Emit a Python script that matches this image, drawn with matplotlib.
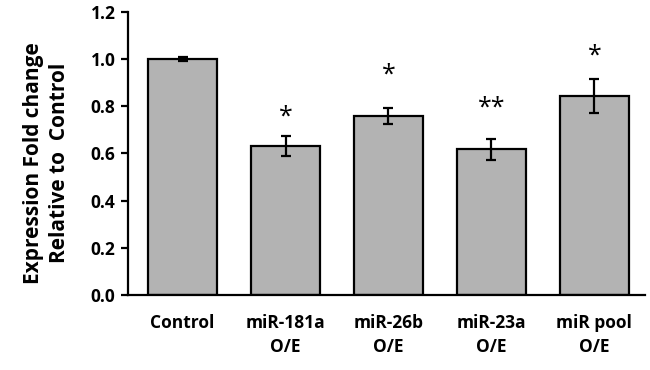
import matplotlib
matplotlib.use("Agg")
import matplotlib.pyplot as plt

categories = ["Control", "miR-181a\nO/E", "miR-26b\nO/E", "miR-23a\nO/E", "miR pool\nO/E"]
values = [1.0, 0.632, 0.759, 0.618, 0.842]
errors = [0.01, 0.042, 0.033, 0.045, 0.072]
stars = ["", "*", "*", "**", "*"]
star_y = [0, 0.70, 0.88, 0.74, 0.96]

plt.rcParams["font.family"] = ["Open Sans", "DejaVu Sans"]

fig = plt.figure(figsize=(6.5, 3.7), dpi=100)
ax = fig.add_axes([0.197, 0.203, 0.795, 0.765])

x = list(range(len(categories)))
ax.bar(x, values, width=0.67, color="#b3b3b3", edgecolor="black", linewidth=1.6, zorder=2)
ax.errorbar(x, values, yerr=errors, fmt="none", ecolor="black", elinewidth=1.6,
            capsize=3.5, capthick=1.6, zorder=3)

for xi, s, sy in zip(x, stars, star_y):
    if s:
        ax.text(xi, sy, s, ha="center", va="bottom", fontsize=18, fontweight="normal")

ax.set_xlim(-0.53, 4.49)
ax.set_ylim(0, 1.2)
ax.set_yticks([0, 0.2, 0.4, 0.6, 0.8, 1.0, 1.2])
ax.set_yticklabels([f"{v:.1f}" for v in [0, 0.2, 0.4, 0.6, 0.8, 1.0, 1.2]],
                   fontsize=12.5, fontweight="bold")
ax.set_xticks(x)
ax.set_xticklabels(categories, fontsize=12.5, fontweight="bold", linespacing=1.4)
ax.tick_params(axis="x", length=0, pad=14)
ax.tick_params(axis="y", length=5, width=1.6, pad=4)

for side in ["top", "right"]:
    ax.spines[side].set_visible(False)
for side in ["left", "bottom"]:
    ax.spines[side].set_linewidth(1.6)

ax.set_ylabel("Expression Fold change\nRelative to  Control", fontsize=15,
              fontweight="bold", linespacing=1.35)
ax.yaxis.set_label_coords(-0.112, 0.465)

fig.savefig("out.png", dpi=100)
